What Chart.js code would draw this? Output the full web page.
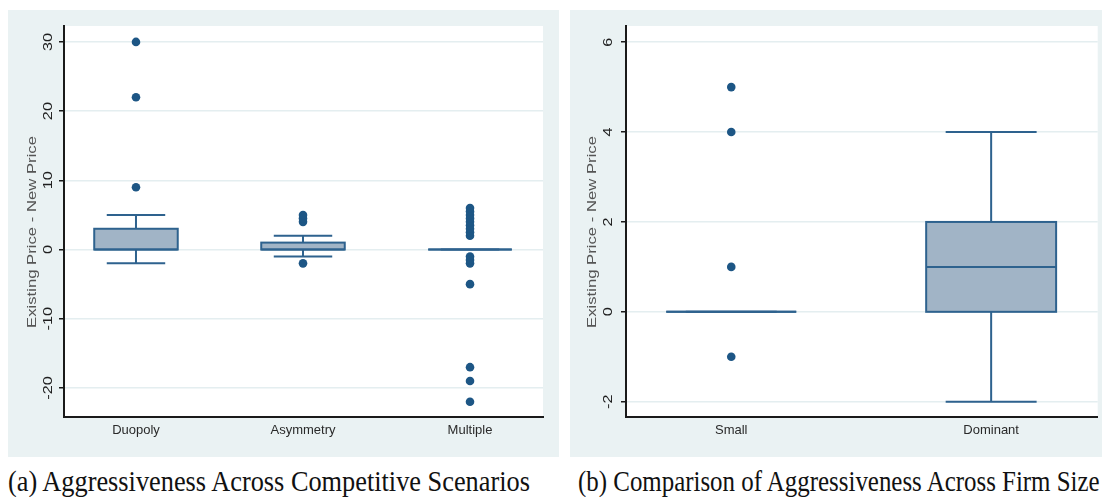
<!DOCTYPE html>
<html>
<head>
<meta charset="utf-8">
<script src="https://cdn.jsdelivr.net/npm/chart.js@4.4.1/dist/chart.umd.min.js"></script>
<style>
  body { margin: 0; background: #fff; width: 1102px; height: 497px; position: relative; overflow: hidden; }
  canvas { position: absolute; top: 0; }
  #left { left: 0; }
  #right { left: 560px; }
  .caption { position: absolute; top: 467px; font-family: "Liberation Serif", "Times New Roman", serif; font-size: 24px; line-height: 24px; color: #111; white-space: nowrap; transform-origin: 0 0; }
</style>
</head>
<body>
<canvas id="left" width="560" height="460"></canvas>
<canvas id="right" width="542" height="460"></canvas>
<span class="caption" id="capA">(a) Aggressiveness Across Competitive Scenarios</span>
<span class="caption" id="capB">(b) Comparison of Aggressiveness Across Firm Size</span>
<script>
// (a) competitive scenarios
const scenarioNames = ["Duopoly", "Asymmetry", "Multiple"];
const scenarioLow = [-2, -1, 0];
const scenarioQ1 = [0, 0, 0];
const scenarioMedian = [0, 0, 0];
const scenarioQ3 = [3, 1, 0];
const scenarioHigh = [5, 2, 0];
const duopolyOutliers = [9, 22, 30];
const asymmetryOutliers = [-2, 4, 4.5, 5];
const multipleOutliers = [-22, -19, -17, -5, -2, -1.5, -1, 2, 2.5, 3, 3.5, 4, 4.5, 5, 5.5, 6];
const scenarioTicks = [-20, -10, 0, 10, 20, 30];

// (b) firm size
const sizeNames = ["Small", "Dominant"];
const sizeLow = [0, -2];
const sizeQ1 = [0, 0];
const sizeMedian = [0, 1];
const sizeQ3 = [0, 2];
const sizeHigh = [0, 4];
const smallOutliers = [-1, 1, 4, 5];
const dominantOutliers = [];
const sizeTicks = [-2, 0, 2, 4, 6];

const PANEL_BG = "#eaf2f3";
const GRID = "#e4eef0";
const BOX_FILL = "#a1b4c6";
const BOX_LINE = "#2e628e";
const DOT = "#1d5685";
const AXIS = "#1a1a1a";
const YTITLE = "Existing Price - New Price";

const stataBox = {
  id: "stataBox",
  beforeDraw(chart, args, o) {
    const ctx = chart.ctx, a = chart.chartArea;
    ctx.save();
    ctx.fillStyle = PANEL_BG;
    ctx.fillRect(o.panel[0], o.panel[1], o.panel[2], o.panel[3]);
    ctx.fillStyle = "#fff";
    ctx.fillRect(a.left, a.top, a.right - a.left, a.bottom - a.top);
    ctx.restore();
  },
  beforeDatasetsDraw(chart, args, o) {
    const ctx = chart.ctx, x = chart.scales.x, y = chart.scales.y;
    ctx.save();
    ctx.strokeStyle = BOX_LINE;
    ctx.lineWidth = 2;
    o.q1.forEach((q1, i) => {
      const c = i + 1;
      const l = x.getPixelForValue(c - 0.25), r = x.getPixelForValue(c + 0.25);
      const cl = x.getPixelForValue(c - 0.175), cr = x.getPixelForValue(c + 0.175);
      const cx = x.getPixelForValue(c);
      const yLo = y.getPixelForValue(o.low[i]), yHi = y.getPixelForValue(o.high[i]);
      const yQ1 = y.getPixelForValue(q1), yQ3 = y.getPixelForValue(o.q3[i]);
      const yMed = y.getPixelForValue(o.median[i]);
      ctx.beginPath();
      ctx.moveTo(cx, yQ3); ctx.lineTo(cx, yHi);
      ctx.moveTo(cl, yHi); ctx.lineTo(cr, yHi);
      ctx.moveTo(cx, yQ1); ctx.lineTo(cx, yLo);
      ctx.moveTo(cl, yLo); ctx.lineTo(cr, yLo);
      ctx.stroke();
      ctx.fillStyle = BOX_FILL;
      ctx.fillRect(l, yQ3, r - l, yQ1 - yQ3);
      ctx.strokeRect(l, yQ3, r - l, yQ1 - yQ3);
      ctx.beginPath();
      ctx.moveTo(l, yMed); ctx.lineTo(r, yMed);
      ctx.stroke();
    });
    ctx.restore();
  },
  afterDraw(chart, args, o) {
    // stata style: y tick labels and title run bottom to top
    const ctx = chart.ctx, y = chart.scales.y;
    ctx.save();
    ctx.textAlign = "center";
    ctx.textBaseline = "middle";
    ctx.fillStyle = "#1e1e1e";
    ctx.font = '12.5px "Liberation Sans", Arial, sans-serif';
    y.ticks.forEach(t => {
      ctx.save();
      ctx.translate(o.tickX, y.getPixelForValue(t.value));
      ctx.rotate(-Math.PI / 2);
      ctx.scale(1.3, 1);
      ctx.fillText(String(t.value), 0, 0);
      ctx.restore();
    });
    ctx.fillStyle = "#555";
    ctx.font = '12px "Liberation Sans", Arial, sans-serif';
    const w = ctx.measureText(YTITLE).width;
    ctx.translate(o.titleX, o.titleY);
    ctx.rotate(-Math.PI / 2);
    ctx.scale(o.titleLen / w, 1);
    ctx.fillText(YTITLE, 0, 0);
    ctx.restore();
  }
};

function makeChart(id, names, stats, groups, ticks, yMin, yMax, xMin, xMax, box) {
  const datasets = groups.map((vals, i) => ({
    data: vals.map(v => ({ x: i + 1, y: v })),
    pointRadius: 4.3,
    pointBackgroundColor: DOT,
    pointBorderWidth: 0,
    showLine: false
  }));
  return new Chart(document.getElementById(id), {
    type: "scatter",
    data: { datasets: datasets },
    options: {
      responsive: false,
      animation: false,
      devicePixelRatio: 1,
      layout: { padding: { left: 0, right: box.padRight, top: 26, bottom: 0 } },
      plugins: {
        legend: { display: false },
        tooltip: { enabled: false },
        stataBox: Object.assign({}, stats, box)
      },
      scales: {
        x: {
          type: "linear",
          min: xMin,
          max: xMax,
          afterBuildTicks: s => { s.ticks = names.map((n, i) => ({ value: i + 1 })); },
          afterFit: s => { s.height = 43; },
          grid: { display: false, drawTicks: false },
          border: { display: true, color: AXIS, width: 2 },
          ticks: {
            autoSkip: false,
            padding: 6,
            color: "#2a2a2a",
            font: { family: "'Liberation Sans', Arial, sans-serif", size: 13 },
            callback: v => names[v - 1]
          }
        },
        y: {
          min: yMin,
          max: yMax,
          afterBuildTicks: s => { s.ticks = ticks.map(v => ({ value: v })); },
          afterFit: s => { s.width = box.axisX; },
          grid: { color: GRID, lineWidth: 1.5, tickColor: AXIS, tickLength: 5, tickWidth: 1.5 },
          border: { display: true, color: AXIS, width: 2 },
          ticks: { display: false }
        }
      }
    },
    plugins: [stataBox]
  });
}

makeChart("left", scenarioNames,
  { low: scenarioLow, q1: scenarioQ1, median: scenarioMedian, q3: scenarioQ3, high: scenarioHigh },
  [duopolyOutliers, asymmetryOutliers, multipleOutliers],
  scenarioTicks, -24.2, 32.3, 0.569, 3.437,
  { panel: [8, 10, 551, 447], padRight: 17, axisX: 64, tickX: 49, titleX: 33, titleY: 232, titleLen: 192 });

makeChart("right", sizeNames,
  { low: sizeLow, q1: sizeQ1, median: sizeMedian, q3: sizeQ3, high: sizeHigh },
  [smallOutliers, dominantOutliers],
  sizeTicks, -2.34, 6.36, 0.595, 2.41,
  { panel: [10, 10, 532, 447], padRight: 0, axisX: 66, tickX: 49, titleX: 33, titleY: 232, titleLen: 192 });

function fitCaption(id, left, width) {
  const el = document.getElementById(id);
  el.style.left = left + "px";
  const sx = width / el.offsetWidth;
  el.style.transform = "scale(" + sx + ", 1.2)";
}
fitCaption("capA", 8, 522);
fitCaption("capB", 578, 522);
</script>
</body>
</html>
